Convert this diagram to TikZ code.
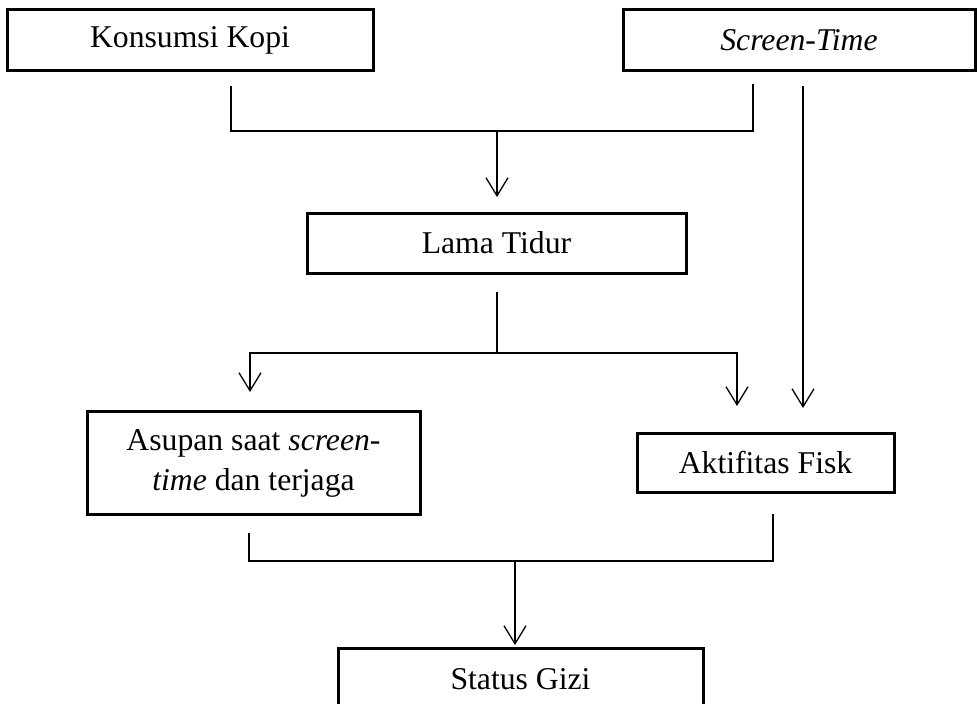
\documentclass[tikz,border=0pt]{standalone}
\usepackage{fontspec}
\setmainfont{Liberation Serif}
\usetikzlibrary{arrows.meta}
\begin{document}
\begin{tikzpicture}[x=1pt,y=-1pt,
  box/.style={draw, line width=3pt, inner sep=0pt, align=center, font=\fontsize{31.7}{40}\selectfont},
  conn/.style={line width=1.3pt},
  arr/.style={conn, -{Straight Barb[length=18pt,width=22pt]}}]
\clip (0,0) rectangle (978,704);
\fill[white] (0,0) rectangle (978,704);
\node[box, minimum width=366pt, minimum height=61pt] (kopi) at (190,40) {Konsumsi Kopi};
\node[box, minimum width=352pt, minimum height=61pt] (screen) at (799,40) {\textit{Screen-Time}};
\node[box, minimum width=379pt, minimum height=60pt] (tidur) at (496.5,243) {Lama Tidur};
\node[box, minimum width=333pt, minimum height=103pt] (asupan) at (253.5,463) {Asupan saat \textit{screen-}\\\textit{time} dan terjaga};
\node[box, minimum width=257pt, minimum height=59pt] (aktif) at (765.5,462.5) {Aktifitas Fisk};
\node[box, minimum width=365pt, minimum height=62pt] (gizi) at (520.5,679) {Status Gizi};
% top bracket
\coordinate (kA) at (231,86);
\coordinate (kB) at (231,131);
\coordinate (sA) at (753,84);
\coordinate (sB) at (753,131);
\coordinate (m1) at (497,131);
\coordinate (m1e) at (497,197);
\draw[conn] (kA) -- (kB) -- (sB) -- (sA);
\draw[arr] (m1) -- (m1e);
% screen-time direct
\coordinate (s2A) at (803,86);
\coordinate (s2B) at (803,408);
\draw[arr] (s2A) -- (s2B);
% lama tidur split
\coordinate (tA) at (497,292);
\coordinate (tB) at (497,353);
\coordinate (tL) at (250,353);
\coordinate (tLe) at (250,392);
\coordinate (tR) at (737,353);
\coordinate (tRe) at (737,406);
\draw[conn] (tA) -- (tB);
\draw[arr] (tB) -- (tL) -- (tLe);
\draw[arr] (tB) -- (tR) -- (tRe);
% bottom bracket
\coordinate (aA) at (249,533);
\coordinate (aB) at (249,561);
\coordinate (fA) at (773,514);
\coordinate (fB) at (773,561);
\coordinate (gA) at (515,561);
\coordinate (gB) at (515,645);
\draw[conn] (aA) -- (aB) -- (fB) -- (fA);
\draw[arr] (gA) -- (gB);
\end{tikzpicture}
\end{document}
